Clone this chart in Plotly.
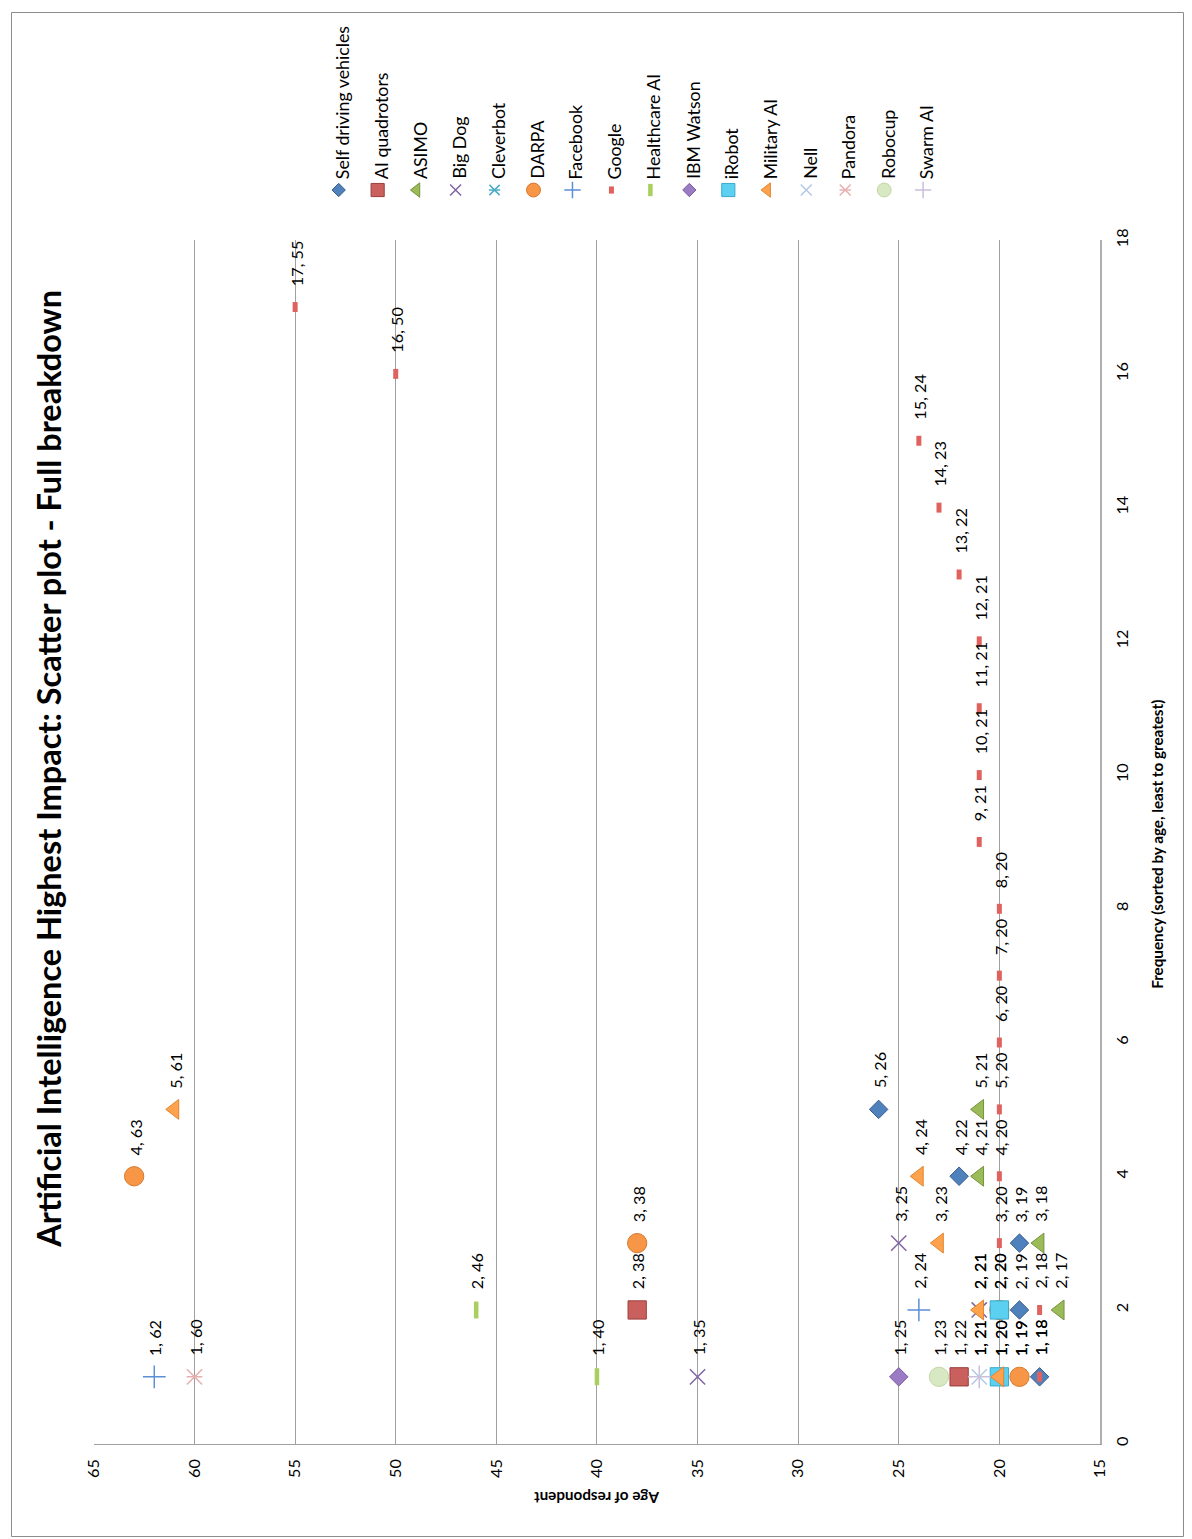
import plotly.graph_objects as go

# ---------------- data ----------------
series_names = ["Self driving vehicles", "AI quadrotors", "ASIMO", "Big Dog", "Cleverbot",
                "DARPA", "Facebook", "Google", "Healthcare AI", "IBM Watson", "iRobot",
                "Military AI", "Nell", "Pandora", "Robocup", "Swarm AI"]

self_driving_freq = [1, 2, 3, 4, 5]
self_driving_age = [18, 19, 19, 22, 26]
ai_quadrotors_freq = [1, 2]
ai_quadrotors_age = [22, 38]
asimo_freq = [2, 3, 4, 5]
asimo_age = [17, 18, 21, 21]
big_dog_freq = [1, 2, 3]
big_dog_age = [35, 21, 25]
cleverbot_freq = [1]
cleverbot_age = [19]
darpa_freq = [1, 2, 3, 4]
darpa_age = [19, 20, 38, 63]
facebook_freq = [1, 2]
facebook_age = [62, 24]
google_freq = [1, 2, 3, 4, 5, 6, 7, 8, 9, 10, 11, 12, 13, 14, 15, 16, 17]
google_age = [18, 18, 20, 20, 20, 20, 20, 20, 21, 21, 21, 21, 22, 23, 24, 50, 55]
healthcare_freq = [1, 2]
healthcare_age = [40, 46]
ibm_watson_freq = [1]
ibm_watson_age = [25]
irobot_freq = [1, 2]
irobot_age = [20, 20]
military_freq = [1, 2, 3, 4, 5]
military_age = [20, 21, 23, 24, 61]
nell_freq = [1]
nell_age = [21]
pandora_freq = [1]
pandora_age = [60]
robocup_freq = [1]
robocup_age = [23]
swarm_freq = [1]
swarm_age = [21]

age_ticks = [15, 20, 25, 30, 35, 40, 45, 50, 55, 60, 65]
freq_ticks = [0, 2, 4, 6, 8, 10, 12, 14, 16, 18]

series_data = [
    (self_driving_freq, self_driving_age), (ai_quadrotors_freq, ai_quadrotors_age),
    (asimo_freq, asimo_age), (big_dog_freq, big_dog_age), (cleverbot_freq, cleverbot_age),
    (darpa_freq, darpa_age), (facebook_freq, facebook_age), (google_freq, google_age),
    (healthcare_freq, healthcare_age), (ibm_watson_freq, ibm_watson_age),
    (irobot_freq, irobot_age), (military_freq, military_age), (nell_freq, nell_age),
    (pandora_freq, pandora_age), (robocup_freq, robocup_age), (swarm_freq, swarm_age),
]

# ---------------- styles ----------------
# (list of (symbol, size, fill, line color, line width)) per series
styles = [
    [("diamond", 14, "#4F81BD", "#385D8A", 1)],
    [("square", 18, "#C9605D", "#9B3E3B", 1)],
    [("triangle-left", 17, "#9BBB59", "#76923C", 1)],
    [("x-thin-open", 15, "#8064A2", "#8064A2", 1.5)],
    [("x-thin-open", 14, "#4BACC6", "#4BACC6", 1.5), ("line-ew-open", 11, "#4BACC6", "#4BACC6", 1.5)],
    [("circle", 19, "#F79646", "#D7792E", 1)],
    [("cross-thin-open", 16, "#5B8FD6", "#5B8FD6", 1.5)],
    [("line-ns-open", 7, "#E0625E", "#E0625E", 5)],
    [("line-ns-open", 12, "#A9CF5E", "#A9CF5E", 4.5)],
    [("diamond", 14, "#9A7BC4", "#7A5FA0", 1)],
    [("square", 18, "#5CD0F0", "#3AAACB", 1)],
    [("triangle-left", 17, "#FFA24D", "#E0852F", 1)],
    [("x-thin-open", 15, "#B3C8E6", "#B3C8E6", 1.5)],
    [("x-thin-open", 15, "#E6B0AF", "#E6B0AF", 1.5), ("line-ew-open", 11, "#E6B0AF", "#E6B0AF", 1.5)],
    [("circle", 19, "#D8E8C2", "#C3D6A6", 1)],
    [("cross-thin-open", 16, "#CBBFDC", "#CBBFDC", 1.5)],
]

W, H = 1192, 1539
SX, BX, SY, BY = 0.985, 10.0, 0.988, 15.5   # layout calibration


def px(x):
    return (x - BX) / SX


def py(y):
    return (y - BY) / SY


def fs(s):
    return round(s / SX, 2)


PL, PR, PT, PB = px(93), px(1100), py(243), py(1443)  # plot area in page pixels
FONT = "Lato, Calibri, Carlito, sans-serif"

fig = go.Figure()

# main data traces
for name, (fr, ag), st in zip(series_names, series_data, styles):
    for sym, size, fill, lc, lw in st:
        fig.add_trace(go.Scatter(
            x=ag, y=fr, mode="markers", name=name, showlegend=False,
            marker=dict(symbol=sym, size=fs(size), color=fill,
                        line=dict(color=lc, width=lw)),
            xaxis="x", yaxis="y", hoverinfo="skip"))

# data labels
annotations = []
for (fr, ag) in series_data:
    for f, a in zip(fr, ag):
        annotations.append(dict(
            x=a, y=f, xref="x", yref="y", text=f"{f}, {a}", showarrow=False,
            textangle=-90, xanchor="center", yanchor="bottom", yshift=19, xshift=1,
            font=dict(family=FONT, size=fs(16), color="#000000")))

# manual legend (rotated) in page-pixel coordinates on x2/y2
for i, (name, st) in enumerate(zip(series_names, styles)):
    lx = 338 + 39 * i
    for sym, size, fill, lc, lw in st:
        fig.add_trace(go.Scatter(
            x=[px(lx)], y=[py(193)], mode="markers", showlegend=False,
            marker=dict(symbol=sym, size=fs(size * 0.72), color=fill,
                        line=dict(color=lc, width=lw)),
            xaxis="x2", yaxis="y2", hoverinfo="skip"))
    annotations.append(dict(
        x=px(lx + 3), y=py(184), xref="x2", yref="y2", text=name, showarrow=False,
        textangle=-90, xanchor="center", yanchor="bottom",
        font=dict(family=FONT, size=fs(17.5), color="#000000")))

# title and axis titles
annotations.append(dict(
    x=px(48), y=py(770), xref="x2", yref="y2", showarrow=False, textangle=-90,
    text="<b>Artificial Intelligence Highest Impact: Scatter plot - Full breakdown</b>",
    font=dict(family=FONT, size=fs(32), color="#000000"), xanchor="center", yanchor="middle"))
annotations.append(dict(
    x=px(1157), y=py(845), xref="x2", yref="y2", showarrow=False, textangle=-90,
    text="<b>Frequency (sorted by age, least to greatest)</b>",
    font=dict(family=FONT, size=fs(15), color="#000000"), xanchor="center", yanchor="middle"))
annotations.append(dict(
    x=px(596), y=py(1497), xref="x2", yref="y2", showarrow=False, textangle=180,
    text="<b>Age of respondent</b>",
    font=dict(family=FONT, size=fs(15), color="#000000"), xanchor="center", yanchor="middle"))

fig.update_layout(
    width=W, height=H, autosize=False,
    margin=dict(l=0, r=0, t=0, b=0),
    paper_bgcolor="white", plot_bgcolor="rgba(0,0,0,0)",
    showlegend=False,
    xaxis=dict(domain=[PL / W, PR / W], range=[65, 15], anchor="y",
               tickvals=age_ticks, ticktext=[str(v) for v in age_ticks],
               tickangle=-90, showgrid=True, gridcolor="#A0A0A0", gridwidth=1,
               showline=True, linecolor="#A0A0A0", linewidth=1, zeroline=False,
               ticks="", ticklabelstandoff=8,
               tickfont=dict(family=FONT, size=fs(16), color="#000000")),
    yaxis=dict(domain=[1 - PB / H, 1 - PT / H], range=[0, 18], anchor="x",
               side="right",
               tickvals=freq_ticks, ticktext=[str(v) for v in freq_ticks],
               tickangle=-90, showgrid=False, zeroline=False,
               showline=True, linecolor="#B0B0B0", linewidth=2,
               ticks="", ticklabelstandoff=7,
               tickfont=dict(family=FONT, size=fs(16), color="#000000")),
    xaxis2=dict(domain=[0, 1], range=[0, W], anchor="y2", visible=False, fixedrange=True),
    yaxis2=dict(domain=[0, 1], range=[H, 0], anchor="x2", visible=False, fixedrange=True),
    annotations=annotations,
    shapes=[dict(type="rect", xref="x2", yref="y2", x0=0.5, y0=0.5, x1=1191.5, y1=1538.5,
                 line=dict(color="#8C8C8C", width=1), fillcolor="rgba(0,0,0,0)", layer="below")],
)

fig.write_html(
    "out.html",
    config={"displayModeBar": False},
    post_script=("document.documentElement.style.margin='0';"
                 "document.documentElement.style.overflow='hidden';"
                 "document.body.style.margin='0';"
                 "document.body.style.overflow='hidden';"))
